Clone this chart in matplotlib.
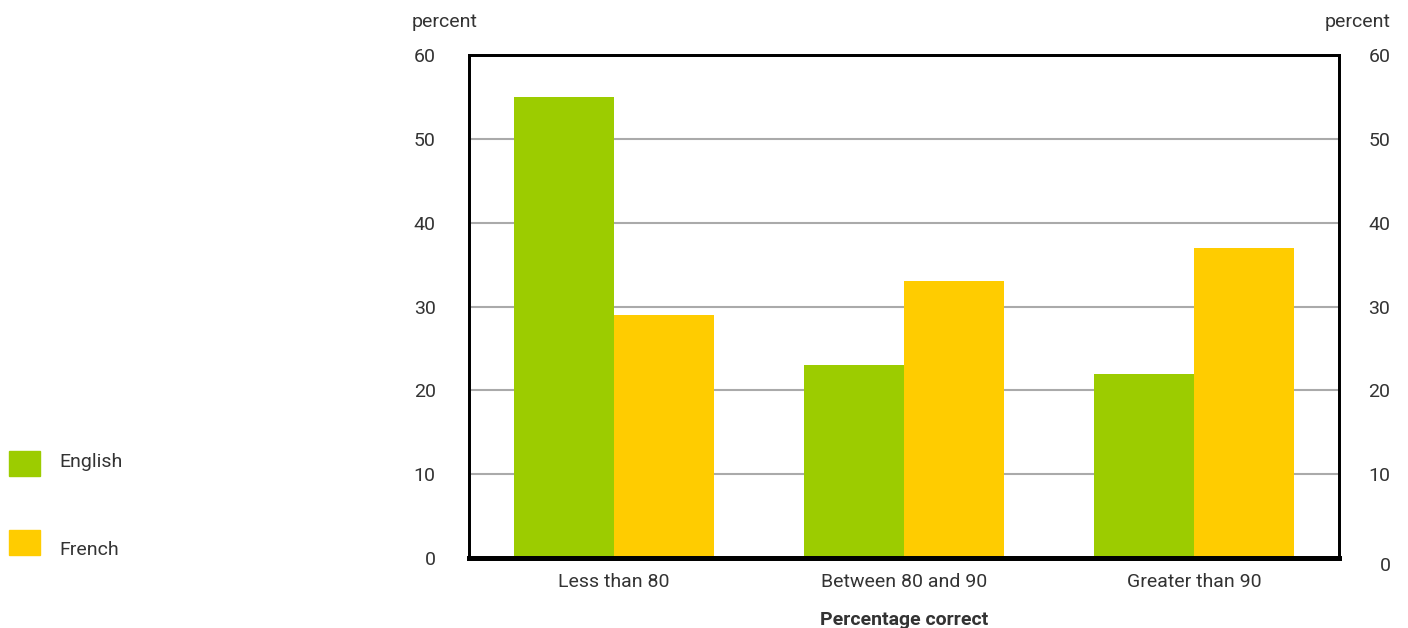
import numpy as np
import matplotlib.pyplot as plt
import matplotlib.transforms as mtransforms
from matplotlib.patches import Rectangle

plt.rcParams["font.family"] = ["Roboto", "DejaVu Sans"]

categories = ["Less than 80", "Between 80 and 90", "Greater than 90"]
english = [55, 23, 22]
french = [29, 33, 37]
series_names = ["English", "French"]
colors = ["#9ccc00", "#ffcc00"]
text_color = "#333333"

fig = plt.figure(figsize=(14.08, 6.28), dpi=100)
ax = fig.add_axes([469 / 1408, 70 / 628, 870 / 1408, 503 / 628])

x = np.arange(len(categories))
w = 0.345
ax.bar(x - w / 2, english, width=w, color=colors[0], zorder=2)
ax.bar(x + w / 2, french, width=w, color=colors[1], zorder=2)

ax.set_xlim(-0.5, 2.5)
ax.set_ylim(0, 60)
yticks = np.arange(0, 61, 10)
ax.set_yticks(yticks)
ax.grid(axis="y", color="#aaaaaa", linewidth=1.5, zorder=1)
ax.set_xticks(x)
ax.set_xticklabels(categories, fontsize=14, color=text_color)
ax.tick_params(axis="x", length=0, pad=11)
ax.tick_params(axis="y", length=0, pad=24, labelsize=14, labelcolor=text_color)

# right-hand scale
ax2 = ax.twinx()
ax2.set_ylim(0, 60)
ax2.set_yticks(yticks)
ax2.tick_params(axis="y", length=0, pad=37, labelsize=14, labelcolor=text_color)
for lbl in ax2.get_yticklabels():
    lbl.set_horizontalalignment("right")
# the right-hand zero sits a little lower in the original
zero_lbl = ax2.get_yticklabels()[0]
zero_lbl.set_transform(zero_lbl.get_transform() +
                       mtransforms.ScaledTranslation(0, -6 / 100, fig.dpi_scale_trans))

for a in (ax, ax2):
    for s in ["left", "right", "top"]:
        a.spines[s].set_linewidth(2)
        a.spines[s].set_color("black")
    a.spines["bottom"].set_linewidth(3.5)
    a.spines["bottom"].set_color("black")

ax.set_xlabel("Percentage correct", fontsize=14, fontweight="bold",
              color=text_color, labelpad=14)

fig.text(445 / 1408, 1 - 22 / 628, "percent", fontsize=14, color=text_color,
         ha="center", va="center")
fig.text(1358 / 1408, 1 - 22 / 628, "percent", fontsize=14, color=text_color,
         ha="center", va="center")

# legend on the far left
box_y = [463, 542]
text_y = [462, 550]
for name, c, by, ty in zip(series_names, colors, box_y, text_y):
    fig.patches.append(Rectangle((9 / 1408, 1 - (by + 12.5) / 628), 31 / 1408, 25 / 628,
                                 transform=fig.transFigure, color=c))
    fig.text(59 / 1408, 1 - ty / 628, name, fontsize=14, color=text_color,
             ha="left", va="center")

fig.savefig("out.png", dpi=100)
